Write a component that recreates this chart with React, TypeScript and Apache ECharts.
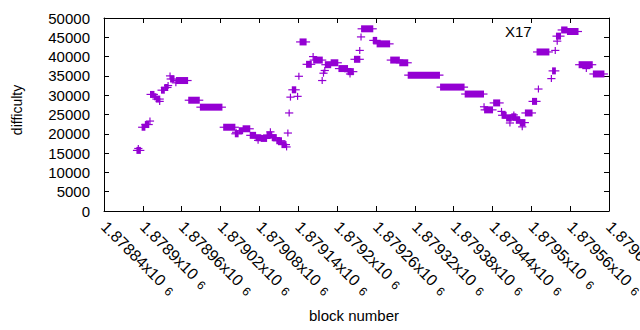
import React, { useEffect, useRef } from "react";
import * as echarts from "echarts";

// x axis (block number)
const xMin = 1878840;
const xMax = 1879620;
const xStep = 60;
const xTickBase = [
  "1.87884", "1.8789", "1.87896", "1.87902", "1.87908", "1.87914", "1.8792",
  "1.87926", "1.87932", "1.87938", "1.87944", "1.8795", "1.87956", "1.87962",
];
const xExponent = "6";

// y axis (difficulty)
const yMin = 0;
const yMax = 50000;
const yStep = 5000;

// runs of blocks sharing (about) the same difficulty: [firstBlock, lastBlock, difficulty]
const difficultyRuns: [number, number, number][] = [
  [1878891, 1878896, 15700],
  [1878893, 1878893, 16200],
  [1878899, 1878903, 21700],
  [1878904, 1878909, 22400],
  [1878911, 1878911, 23300],
  [1878912, 1878917, 30200],
  [1878918, 1878920, 29600],
  [1878921, 1878926, 29000],
  [1878926, 1878926, 28400],
  [1878929, 1878933, 31300],
  [1878934, 1878938, 32000],
  [1878939, 1878939, 32500],
  [1878942, 1878942, 35000],
  [1878943, 1878948, 34200],
  [1878951, 1878951, 33200],
  [1878952, 1878969, 33800],
  [1878971, 1878987, 28700],
  [1878989, 1879022, 26900],
  [1879025, 1879042, 21700],
  [1879043, 1879047, 20000],
  [1879044, 1879044, 20400],
  [1879049, 1879054, 20800],
  [1879055, 1879065, 21300],
  [1879066, 1879074, 19600],
  [1879075, 1879082, 19000],
  [1879078, 1879078, 18300],
  [1879083, 1879091, 18800],
  [1879092, 1879099, 19700],
  [1879097, 1879097, 20500],
  [1879100, 1879106, 19000],
  [1879107, 1879114, 18200],
  [1879115, 1879121, 17200],
  [1879122, 1879122, 16600],
  [1879124, 1879124, 20200],
  [1879126, 1879126, 25400],
  [1879128, 1879128, 29500],
  [1879131, 1879136, 31400],
  [1879139, 1879139, 29700],
  [1879141, 1879141, 34900],
  [1879143, 1879152, 43800],
  [1879153, 1879160, 38000],
  [1879163, 1879163, 40000],
  [1879164, 1879177, 39100],
  [1879177, 1879177, 33800],
  [1879179, 1879179, 35700],
  [1879181, 1879181, 36400],
  [1879182, 1879190, 37900],
  [1879191, 1879201, 38400],
  [1879203, 1879216, 36900],
  [1879217, 1879225, 36100],
  [1879220, 1879220, 35500],
  [1879227, 1879235, 39300],
  [1879235, 1879235, 41600],
  [1879237, 1879237, 45100],
  [1879238, 1879255, 47200],
  [1879256, 1879261, 44200],
  [1879262, 1879281, 43300],
  [1879283, 1879296, 39100],
  [1879297, 1879309, 38400],
  [1879310, 1879358, 35200],
  [1879360, 1879396, 32100],
  [1879398, 1879426, 30300],
  [1879427, 1879427, 27000],
  [1879428, 1879440, 26200],
  [1879442, 1879451, 28000],
  [1879454, 1879454, 25800],
  [1879455, 1879461, 24800],
  [1879462, 1879469, 24100],
  [1879467, 1879467, 22800],
  [1879470, 1879476, 24400],
  [1879473, 1879473, 24900],
  [1879477, 1879482, 23500],
  [1879483, 1879490, 22900],
  [1879486, 1879486, 21800],
  [1879491, 1879501, 25400],
  [1879502, 1879508, 28400],
  [1879509, 1879527, 41200],
  [1879511, 1879511, 31600],
  [1879531, 1879531, 34300],
  [1879533, 1879537, 36300],
  [1879537, 1879537, 41600],
  [1879539, 1879545, 45300],
  [1879540, 1879540, 44000],
  [1879547, 1879555, 46900],
  [1879556, 1879572, 46500],
  [1879574, 1879594, 37900],
  [1879585, 1879585, 36900],
  [1879596, 1879612, 35500],
];

const seriesName = "X17";
const xName = "block number";
const yName = "difficulty";

const COLOR = "#9400d3";
const FONT = "'Liberation Sans', Arial, sans-serif";

export default function App() {
  const ref = useRef<HTMLDivElement>(null);

  useEffect(() => {
    if (!ref.current) return;
    const chart = echarts.init(ref.current, null, { renderer: "svg" });

    const xLabel = (v: number) => {
      const i = Math.round((v - xMin) / xStep);
      const base = xTickBase[i] ?? "";
      return `${base}x10 {sup|${xExponent}}`;
    };

    const commonX = {
      type: "value" as const,
      min: xMin,
      max: xMax,
      interval: xStep,
      splitLine: { show: false },
      axisLine: { show: true, onZero: false, lineStyle: { color: "#000", width: 1 } },
      axisTick: { show: true, inside: true, length: 5, lineStyle: { color: "#000" } },
    };
    const commonY = {
      type: "value" as const,
      min: yMin,
      max: yMax,
      interval: yStep,
      splitLine: { show: false },
      axisLine: { show: true, onZero: false, lineStyle: { color: "#000", width: 1 } },
      axisTick: { show: true, inside: true, length: 5, lineStyle: { color: "#000" } },
    };

    chart.setOption({
      animation: false,
      backgroundColor: "#fff",
      grid: { left: 104, right: 31, top: 18, bottom: 119, containLabel: false, outerBoundsMode: "none" },
      xAxis: [
        {
          ...commonX,
          position: "bottom",
          axisLabel: {
            show: true,
            rotate: -45,
            margin: 13,
            fontSize: 16,
            fontFamily: FONT,
            color: "#000",
            showMinLabel: true,
            showMaxLabel: true,
            hideOverlap: false,
            formatter: xLabel,
            rich: { sup: { fontSize: 12, fontFamily: FONT, color: "#000", padding: [0, 0, -4, 2] } },
          },
        },
        { ...commonX, position: "top", axisLabel: { show: false } },
      ],
      yAxis: [
        {
          ...commonY,
          position: "left",
          axisLabel: {
            show: true,
            margin: 14,
            fontSize: 15,
            fontFamily: FONT,
            color: "#000",
            formatter: (v: number) => String(v),
          },
        },
        { ...commonY, position: "right", axisLabel: { show: false } },
      ],
      graphic: [
        {
          type: "text",
          x: 505,
          y: 31,
          style: { text: seriesName, font: `15px ${FONT}`, fill: "#000", verticalAlign: "middle", align: "left" },
        },
        {
          type: "text",
          x: 354,
          y: 315,
          style: { text: xName, font: `15px ${FONT}`, fill: "#000", verticalAlign: "middle", align: "center" },
        },
        {
          type: "text",
          x: 17,
          y: 110,
          rotation: Math.PI / 2,
          style: { text: yName, font: `14px ${FONT}`, fill: "#000", verticalAlign: "middle", align: "center" },
        },
      ],
      series: [
        {
          name: seriesName,
          type: "custom",
          coordinateSystem: "cartesian2d",
          xAxisIndex: 0,
          yAxisIndex: 0,
          encode: { x: [0, 1], y: 2 },
          data: difficultyRuns,
          renderItem: (params: any, api: any) => {
            const s = api.value(0);
            const e = api.value(1);
            const v = api.value(2);
            const p1 = api.coord([s, v]);
            const p2 = api.coord([e, v]);
            const h = 3.5;
            return {
              type: "group",
              children: [
                {
                  type: "rect",
                  shape: { x: p1[0] - 0.6, y: p1[1] - h, width: p2[0] - p1[0] + 1.2, height: 2 * h },
                  style: { fill: COLOR },
                },
                {
                  type: "line",
                  shape: { x1: p1[0] - h - 0.6, y1: p1[1], x2: p2[0] + h + 0.6, y2: p1[1] },
                  style: { stroke: COLOR, lineWidth: 1.2 },
                },
              ],
            };
          },
        },
      ],
    });

    return () => chart.dispose();
  }, []);

  return (
    <div
      ref={ref}
      style={{ position: "absolute", left: 0, top: 0, width: 640, height: 330, background: "#fff" }}
    />
  );
}
